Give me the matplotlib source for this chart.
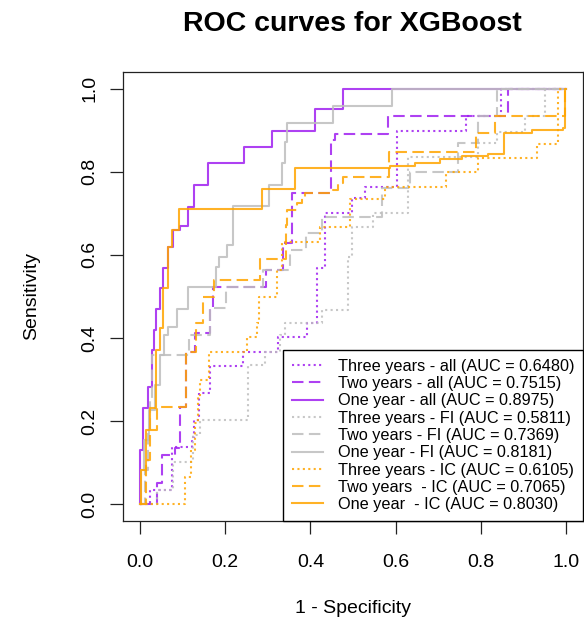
import matplotlib
matplotlib.use("Agg")
import matplotlib.pyplot as plt
from matplotlib.lines import Line2D

plt.rcParams['font.family'] = ['Liberation Sans', 'DejaVu Sans']

# ROC step curves: each pair lists the false-positive rate of every vertical
# step and the sensitivity reached at the top of that step; (0, 0) is implied.
three_all_fpr = [0.023, 0.075, 0.122, 0.127, 0.138, 0.164, 0.242, 0.324, 0.392, 0.415, 0.434, 0.498, 0.528, 0.603, 0.765, 0.847, 1.0]
three_all_tpr = [0.034, 0.137, 0.161, 0.202, 0.267, 0.333, 0.366, 0.402, 0.436, 0.569, 0.701, 0.737, 0.764, 0.899, 0.933, 1.0, 1.0]

two_all_fpr = [0.040, 0.052, 0.082, 0.094, 0.108, 0.129, 0.164, 0.171, 0.296, 0.336, 0.357, 0.448, 0.458, 0.582, 0.864, 1.0]
two_all_tpr = [0.051, 0.118, 0.135, 0.234, 0.366, 0.412, 0.472, 0.523, 0.564, 0.629, 0.749, 0.877, 0.892, 0.933, 1.0, 1.0]

one_all_fpr = [0.0, 0.007, 0.019, 0.028, 0.033, 0.038, 0.047, 0.054, 0.066, 0.077, 0.094, 0.113, 0.127, 0.160, 0.244, 0.310, 0.411, 0.477, 1.0]
one_all_tpr = [0.130, 0.231, 0.282, 0.371, 0.419, 0.470, 0.520, 0.569, 0.619, 0.660, 0.670, 0.716, 0.769, 0.822, 0.860, 0.899, 0.952, 1.0, 1.0]

three_fi_fpr = [0.040, 0.077, 0.124, 0.141, 0.254, 0.293, 0.329, 0.340, 0.427, 0.488, 0.498, 0.547, 0.629, 0.793, 0.838, 0.904, 0.951, 1.0]
three_fi_tpr = [0.034, 0.101, 0.166, 0.202, 0.335, 0.366, 0.407, 0.436, 0.467, 0.595, 0.667, 0.701, 0.836, 0.870, 0.896, 0.933, 1.0, 1.0]

two_fi_fpr = [0.012, 0.019, 0.023, 0.028, 0.115, 0.164, 0.202, 0.289, 0.352, 0.390, 0.427, 0.568, 0.634, 0.746, 0.793, 0.838, 1.0]
two_fi_tpr = [0.082, 0.178, 0.251, 0.359, 0.407, 0.472, 0.523, 0.564, 0.612, 0.653, 0.692, 0.761, 0.800, 0.870, 0.933, 1.0, 1.0]

one_fi_fpr = [0.002, 0.009, 0.021, 0.035, 0.047, 0.056, 0.066, 0.087, 0.113, 0.178, 0.185, 0.204, 0.218, 0.303, 0.333, 0.340, 0.345, 0.453, 0.592, 1.0]
one_fi_tpr = [0.082, 0.154, 0.227, 0.287, 0.359, 0.407, 0.427, 0.470, 0.523, 0.571, 0.595, 0.624, 0.718, 0.769, 0.822, 0.872, 0.918, 0.959, 1.0, 1.0]

three_ic_fpr = [0.106, 0.120, 0.129, 0.136, 0.141, 0.162, 0.251, 0.275, 0.279, 0.322, 0.333, 0.423, 0.493, 0.575, 0.718, 0.793, 0.932, 0.981, 1.0]
three_ic_tpr = [0.067, 0.130, 0.195, 0.258, 0.299, 0.366, 0.402, 0.436, 0.499, 0.564, 0.631, 0.667, 0.735, 0.764, 0.800, 0.834, 0.867, 1.0, 1.0]

two_ic_fpr = [0.014, 0.023, 0.040, 0.108, 0.131, 0.148, 0.174, 0.282, 0.343, 0.345, 0.369, 0.380, 0.387, 0.453, 0.465, 0.477, 0.585, 0.789, 0.833, 0.998, 1.0]
two_ic_tpr = [0.106, 0.178, 0.234, 0.366, 0.436, 0.499, 0.540, 0.590, 0.672, 0.708, 0.725, 0.737, 0.749, 0.757, 0.773, 0.788, 0.848, 0.894, 0.933, 1.0, 1.0]

one_ic_fpr = [0.002, 0.014, 0.023, 0.038, 0.047, 0.054, 0.066, 0.075, 0.092, 0.286, 0.364, 0.587, 0.646, 0.704, 0.756, 0.817, 0.854, 0.920, 0.993, 0.998, 1.0]
one_ic_tpr = [0.082, 0.178, 0.231, 0.371, 0.424, 0.520, 0.619, 0.660, 0.711, 0.759, 0.810, 0.814, 0.822, 0.831, 0.839, 0.843, 0.894, 0.901, 0.906, 1.0, 1.0]

labels = [
    "Three years - all (AUC = 0.6480)",
    "Two years - all (AUC = 0.7515)",
    "One year - all (AUC = 0.8975)",
    "Three years - FI (AUC = 0.5811)",
    "Two years - FI (AUC = 0.7369)",
    "One year - FI (AUC = 0.8181)",
    "Three years - IC (AUC = 0.6105)",
    "Two years  - IC (AUC = 0.7065)",
    "One year  - IC (AUC = 0.8030)",
]

PURPLE = "#A020F0"
GREY = "#BEBEBE"
ORANGE = "#FFA500"
DOTTED = (0, (1.0, 1.6))
DASHED = (0, (5.5, 2.6))
SOLID = "-"

curves = [
    (three_all_fpr, three_all_tpr, PURPLE, DOTTED),
    (two_all_fpr, two_all_tpr, PURPLE, DASHED),
    (one_all_fpr, one_all_tpr, PURPLE, SOLID),
    (three_fi_fpr, three_fi_tpr, GREY, DOTTED),
    (two_fi_fpr, two_fi_tpr, GREY, DASHED),
    (one_fi_fpr, one_fi_tpr, GREY, SOLID),
    (three_ic_fpr, three_ic_tpr, ORANGE, DOTTED),
    (two_ic_fpr, two_ic_tpr, ORANGE, DASHED),
    (one_ic_fpr, one_ic_tpr, ORANGE, SOLID),
]

fig = plt.figure(figsize=(5.84, 6.19), dpi=100)
ax = fig.add_axes([123 / 584, 98 / 619, 460 / 584, 449 / 619])

handles = []
for (fpr, tpr, color, ls), label in zip(curves, labels):
    xs = [0.0] + list(fpr)
    ys = [0.0] + list(tpr)
    ax.plot(xs, ys, drawstyle="steps-post", color=color, linestyle=ls,
            linewidth=1.5, alpha=0.85)
    handles.append(Line2D([], [], color=color, linestyle=ls, linewidth=1.5, alpha=0.85))

ax.set_xlim(-0.04, 1.04)
ax.set_ylim(-0.04, 1.04)
ticks = [0.0, 0.2, 0.4, 0.6, 0.8, 1.0]
tick_labels = ["0.0", "0.2", "0.4", "0.6", "0.8", "1.0"]
ax.set_xticks(ticks)
ax.set_xticklabels(tick_labels)
ax.set_yticks(ticks)
ax.set_yticklabels(tick_labels, rotation=90, va="center")
ax.tick_params(axis="both", direction="out", length=9.5, width=0.9, labelsize=14,
               color="#222222")
ax.tick_params(axis="x", pad=14)
ax.tick_params(axis="y", pad=8)
for sp in ax.spines.values():
    sp.set_linewidth(0.9)
    sp.set_color("#222222")

ax.set_xlabel("1 - Specificity", fontsize=14, labelpad=21)
ax.set_ylabel("Sensitivity", fontsize=14, labelpad=30)

fig.text(352 / 584, 1 - 24 / 619, "ROC curves for XGBoost", ha="center", va="center",
         fontsize=20.5, fontweight="bold")

leg = ax.legend(handles, labels, loc="lower right", bbox_to_anchor=(1.0, 0.0),
                borderaxespad=0.0, fontsize=11.7, frameon=True, fancybox=False,
                edgecolor="black", framealpha=1.0, handlelength=1.9,
                handletextpad=0.9, labelspacing=0.14, borderpad=0.55)
leg.get_frame().set_linewidth(1.0)

fig.savefig("out.png", dpi=100)
